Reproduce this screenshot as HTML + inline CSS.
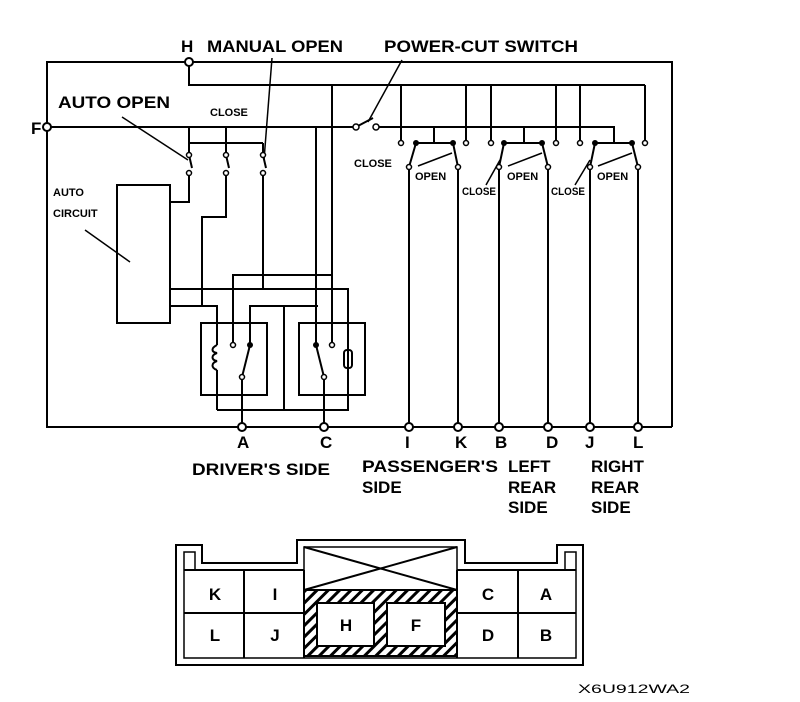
<!DOCTYPE html>
<html><head><meta charset="utf-8"><style>html,body{margin:0;padding:0;background:#fff}svg{display:block}</style></head>
<body>
<svg width="800" height="702" viewBox="0 0 800 702" xmlns="http://www.w3.org/2000/svg">
<defs>
<pattern id="h" width="8" height="8" patternUnits="userSpaceOnUse" patternTransform="rotate(45)">
<rect width="8" height="8" fill="#fff"/><rect width="3" height="8" fill="#000"/></pattern>
</defs>
<g fill="none" stroke="#000" stroke-width="2">
<polyline points="189,62 672,62 672,427"/>
<polyline points="189,62 47,62 47,427 672,427"/>
<polyline points="189,62 189,85 645,85"/>
<polyline points="47,127 356,127"/>
<polyline points="376,127 614,127 614,143"/>
<line x1="356" y1="127" x2="373" y2="118"/>
<line x1="401" y1="85" x2="401" y2="143"/><line x1="466" y1="85" x2="466" y2="143"/>
<line x1="491" y1="85" x2="491" y2="143"/><line x1="556" y1="85" x2="556" y2="143"/>
<line x1="580" y1="85" x2="580" y2="143"/><line x1="645" y1="85" x2="645" y2="143"/>
<line x1="332" y1="85" x2="332" y2="345"/>
<polyline points="434,127 434,143"/><polyline points="416,143 453,143"/>
<polyline points="416,143 409,167 409,427"/><polyline points="453,143 458,167 458,427"/>
<polyline points="524,127 524,143"/><polyline points="504,143 542,143"/>
<polyline points="504,143 499,167 499,427"/><polyline points="542,143 548,167 548,427"/>
<polyline points="595,143 632,143"/>
<polyline points="595,143 590,167 590,427"/><polyline points="632,143 638,167 638,427"/>
<polyline points="189,127 189,143 263,143"/>
<line x1="226" y1="127" x2="226" y2="143"/>
<polyline points="189,143 189,155 192,168"/><polyline points="189,173 189,202 170,202"/>
<polyline points="226,143 226,155 229,168"/><polyline points="226,173 226,217 202,217 202,306"/>
<polyline points="263,143 263,155 266,168"/><polyline points="263,173 263,289"/>
<rect x="117" y="185" width="53" height="138"/>
<polyline points="170,289 348,289 348,410 217,410"/>
<polyline points="170,306 217,306 217,345"/>
<polyline points="217,370 217,410"/>
<polyline points="233,345 233,275 332,275"/>
<polyline points="250,345 250,306 318,306"/>
<line x1="284" y1="306" x2="284" y2="410"/>
<line x1="316" y1="127" x2="316" y2="345"/>
<polyline points="348,289 348,340"/><polyline points="348,375 348,410"/>
<rect x="201" y="323" width="66" height="72"/>
<rect x="299" y="323" width="66" height="72"/>
<line x1="250" y1="345" x2="242" y2="377"/><line x1="242" y1="377" x2="242" y2="427"/>
<line x1="316" y1="345" x2="324" y2="377"/><line x1="324" y1="377" x2="324" y2="427"/>
<path d="M217,345 c-6,3 -6,7 0,8 c-6,2 -6,7 0,8 c-6,2 -6,7 0,9"/>
<rect x="344" y="350" width="8" height="18" rx="3"/>
<line x1="272" y1="58" x2="264" y2="160" stroke-width="1.5"/>
<line x1="402" y1="60" x2="368" y2="122" stroke-width="1.5"/>
<line x1="122" y1="117" x2="188" y2="160" stroke-width="1.5"/>
<line x1="85" y1="230" x2="130" y2="262" stroke-width="1.5"/>
<line x1="418" y1="166" x2="452" y2="153" stroke-width="1.5"/>
<line x1="508" y1="166" x2="542" y2="153" stroke-width="1.5"/>
<line x1="598" y1="166" x2="632" y2="153" stroke-width="1.5"/>
<line x1="486" y1="185" x2="500" y2="160" stroke-width="1.5"/>
<line x1="575" y1="185" x2="590" y2="160" stroke-width="1.5"/>
</g>
<g fill="#fff" stroke="#000" stroke-width="2">
<circle cx="189" cy="62" r="4"/><circle cx="47" cy="127" r="4"/>
<circle cx="242" cy="427" r="4"/><circle cx="324" cy="427" r="4"/>
<circle cx="409" cy="427" r="4"/><circle cx="458" cy="427" r="4"/>
<circle cx="499" cy="427" r="4"/><circle cx="548" cy="427" r="4"/>
<circle cx="590" cy="427" r="4"/><circle cx="638" cy="427" r="4"/>
<g stroke-width="1.5">
<circle cx="356" cy="127" r="3"/><circle cx="376" cy="127" r="3"/>
<circle cx="401" cy="143" r="2.5"/><circle cx="466" cy="143" r="2.5"/><circle cx="491" cy="143" r="2.5"/>
<circle cx="556" cy="143" r="2.5"/><circle cx="580" cy="143" r="2.5"/><circle cx="645" cy="143" r="2.5"/>
<circle cx="409" cy="167" r="2.5"/><circle cx="458" cy="167" r="2.5"/><circle cx="499" cy="167" r="2.5"/>
<circle cx="548" cy="167" r="2.5"/><circle cx="590" cy="167" r="2.5"/><circle cx="638" cy="167" r="2.5"/>
<circle cx="189" cy="155" r="2.5"/><circle cx="189" cy="173" r="2.5"/>
<circle cx="226" cy="155" r="2.5"/><circle cx="226" cy="173" r="2.5"/>
<circle cx="263" cy="155" r="2.5"/><circle cx="263" cy="173" r="2.5"/>
<circle cx="233" cy="345" r="2.5"/><circle cx="332" cy="345" r="2.5"/>
<circle cx="242" cy="377" r="2.5"/><circle cx="324" cy="377" r="2.5"/>
</g></g>
<g fill="#000"><circle cx="250" cy="345" r="3"/><circle cx="316" cy="345" r="3"/>
<circle cx="416" cy="143" r="3"/><circle cx="453" cy="143" r="3"/><circle cx="504" cy="143" r="3"/>
<circle cx="542" cy="143" r="3"/><circle cx="595" cy="143" r="3"/><circle cx="632" cy="143" r="3"/></g>
<g font-family="Liberation Sans, Arial, sans-serif" font-weight="bold" fill="#000">
<g font-size="17">
<text x="181" y="52">H</text>
<text x="207" y="52" textLength="136" lengthAdjust="spacingAndGlyphs">MANUAL OPEN</text>
<text x="384" y="52" textLength="194" lengthAdjust="spacingAndGlyphs">POWER-CUT SWITCH</text>
<text x="58" y="108" textLength="112" lengthAdjust="spacingAndGlyphs">AUTO OPEN</text>
<text x="31" y="134">F</text>
<text x="237" y="448">A</text><text x="320" y="448">C</text><text x="405" y="448">I</text>
<text x="455" y="448">K</text><text x="495" y="448">B</text><text x="546" y="448">D</text>
<text x="585" y="448">J</text><text x="633" y="448">L</text>
<text x="192" y="475" textLength="138" lengthAdjust="spacingAndGlyphs">DRIVER'S SIDE</text>
<text x="362" y="472" textLength="136" lengthAdjust="spacingAndGlyphs">PASSENGER'S</text>
<text x="362" y="493">SIDE</text>
<text x="508" y="472">LEFT</text><text x="508" y="493">REAR</text><text x="508" y="513">SIDE</text>
<text x="591" y="472">RIGHT</text><text x="591" y="493">REAR</text><text x="591" y="513">SIDE</text>
</g>
<g font-size="11">
<text x="210" y="116">CLOSE</text>
<text x="53" y="196">AUTO</text><text x="53" y="217">CIRCUIT</text>
<text x="354" y="167">CLOSE</text>
<text x="415" y="180">OPEN</text><text x="507" y="180">OPEN</text><text x="597" y="180">OPEN</text>
<text x="462" y="195" textLength="34" lengthAdjust="spacingAndGlyphs">CLOSE</text>
<text x="551" y="195" textLength="34" lengthAdjust="spacingAndGlyphs">CLOSE</text>
</g>
<text x="578" y="693" font-size="12" font-weight="normal" textLength="112" lengthAdjust="spacingAndGlyphs">X6U912WA2</text>
</g>
<g fill="none" stroke="#000" stroke-width="2">
<path d="M176,545 H202 V563 H297 V540 H465 V563 H557 V545 H583 V665 H176 Z"/>
<path d="M184,552 H195 V570 H304 V547 H457 V570 H565 V552 H576 V658 H184 Z" stroke-width="1.5"/>
<rect x="304" y="590" width="153" height="66" fill="url(#h)"/>
<rect x="317" y="603" width="57" height="43" fill="#fff"/>
<rect x="387" y="603" width="58" height="43" fill="#fff"/>
<path d="M184,570 H304 M457,570 H576 M184,613 H304 M457,613 H576 M244,570 V658 M518,570 V658 M304,547 L457,590 M457,547 L304,590 M304,570 V658 M457,570 V658"/>
</g>
<g font-family="Liberation Sans, Arial, sans-serif" font-weight="bold" font-size="17" fill="#000" text-anchor="middle">
<text x="215" y="600">K</text><text x="275" y="600">I</text><text x="488" y="600">C</text><text x="546" y="600">A</text>
<text x="215" y="641">L</text><text x="275" y="641">J</text><text x="346" y="631">H</text><text x="416" y="631">F</text>
<text x="488" y="641">D</text><text x="546" y="641">B</text>
</g>
</svg>
</body></html>
